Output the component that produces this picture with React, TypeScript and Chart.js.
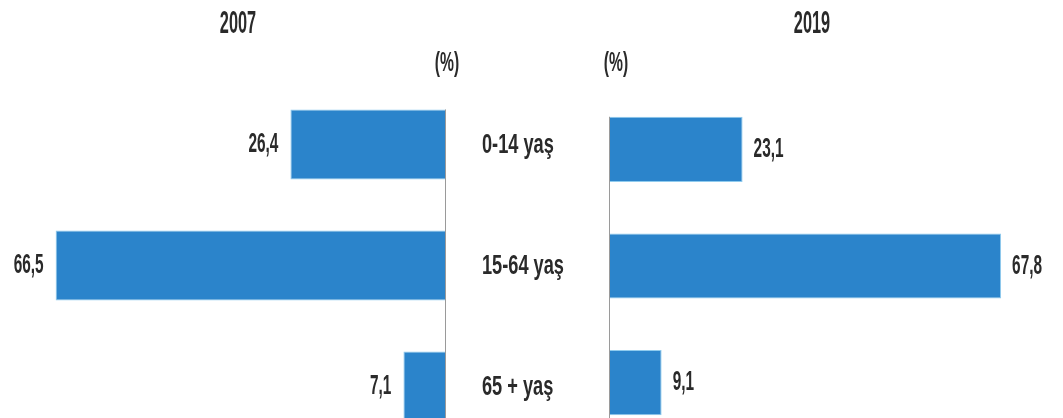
import React, { useEffect, useRef } from 'react';
import { Chart, registerables } from 'chart.js';

Chart.register(...registerables);

// Age groups and population shares (%)
const categories = ['0-14 yaş', '15-64 yaş', '65 + yaş'];
const values2007 = [26.4, 66.5, 7.1];
const values2019 = [23.1, 67.8, 9.1];
const yearLabels = ['2007', '2019'];
const unitLabel = '(%)';

const FONT = "'Liberation Sans', Arial, sans-serif";
const TEXT_COLOR = '#2a2a2a';
const BAR_COLOR = '#2b84cb';
const BAR_EDGE = '#8fcbee';
const AXIS_COLOR = '#9a9a9a';

// narrow, tall lettering: size in px and horizontal squeeze
type TextStyle = { size: number; squeeze: number };
const VALUE_TEXT: TextStyle = { size: 28, squeeze: 0.55 };
const CATEGORY_TEXT: TextStyle = { size: 28, squeeze: 0.65 };
const YEAR_TEXT: TextStyle = { size: 32, squeeze: 0.51 };
const UNIT_TEXT: TextStyle = { size: 28, squeeze: 0.56 };

const fmt = (v: number) => v.toFixed(1).replace('.', ',');

function drawText(
  ctx: CanvasRenderingContext2D,
  text: string,
  x: number,
  y: number,
  style: TextStyle,
  align: CanvasTextAlign
) {
  ctx.save();
  ctx.font = `bold ${style.size}px ${FONT}`;
  ctx.fillStyle = TEXT_COLOR;
  ctx.textBaseline = 'middle';
  ctx.textAlign = align;
  ctx.translate(x, y);
  ctx.scale(style.squeeze, 1);
  ctx.fillText(text, 0, 0);
  ctx.restore();
}

type Side = 'left' | 'right';

function makePlugin(side: Side, year: string, yearX: number, unitX: number, categoryX: number | null) {
  return {
    id: 'pyramidDecor' + side,
    afterDatasetsDraw(chart: any) {
      const ctx: CanvasRenderingContext2D = chart.ctx;
      const meta = chart.getDatasetMeta(0);
      const bars = meta.data.map((el: any) => el.getProps(['x', 'y', 'height', 'base'], true));
      const zeroX = chart.scales.x.getPixelForValue(0);

      // vertical baseline from the first bar down
      ctx.save();
      ctx.strokeStyle = AXIS_COLOR;
      ctx.lineWidth = 1;
      ctx.beginPath();
      const x0 = Math.round(zeroX) + 0.5;
      ctx.moveTo(x0, bars[0].y - bars[0].height / 2);
      ctx.lineTo(x0, chart.height);
      ctx.stroke();
      ctx.restore();

      // value labels at the bar ends
      const values: number[] = chart.data.datasets[0].data;
      bars.forEach((b: any, i: number) => {
        if (side === 'left') {
          drawText(ctx, fmt(values[i]), b.x - 12, b.y, VALUE_TEXT, 'right');
        } else {
          drawText(ctx, fmt(values[i]), b.x + 11, b.y, VALUE_TEXT, 'left');
        }
      });

      // category names between the two halves
      if (categoryX !== null) {
        const labels: string[] = chart.data.labels;
        bars.forEach((b: any, i: number) => {
          drawText(ctx, labels[i], categoryX, b.y + 1, CATEGORY_TEXT, 'left');
        });
      }

      // year heading and unit
      drawText(ctx, year, yearX, 24, YEAR_TEXT, 'center');
      drawText(ctx, unitLabel, unitX, 63, UNIT_TEXT, 'center');
    },
  };
}

function HalfChart(props: {
  side: Side;
  values: number[];
  year: string;
  left: number;
  width: number;
  height: number;
  max: number;
  padding: { top: number; bottom: number; left: number; right: number };
  barPercentage: number;
  yearX: number;
  unitX: number;
  categoryX: number | null;
}) {
  const ref = useRef<HTMLCanvasElement>(null);

  useEffect(() => {
    if (!ref.current) return;
    const chart = new Chart(ref.current, {
      type: 'bar',
      data: {
        labels: categories,
        datasets: [
          {
            data: props.values,
            backgroundColor: BAR_COLOR,
            borderColor: BAR_EDGE,
            borderWidth: 1,
            categoryPercentage: 1,
            barPercentage: props.barPercentage,
          },
        ],
      },
      options: {
        indexAxis: 'y',
        responsive: false,
        animation: false,
        devicePixelRatio: 1,
        layout: { padding: props.padding },
        plugins: {
          legend: { display: false },
          tooltip: { enabled: false },
          title: { display: false },
        },
        scales: {
          x: {
            type: 'linear',
            display: false,
            min: 0,
            max: props.max,
            reverse: props.side === 'left',
          },
          y: { type: 'category', display: false },
        },
      },
      plugins: [makePlugin(props.side, props.year, props.yearX, props.unitX, props.categoryX)],
    });
    return () => chart.destroy();
  }, []);

  return (
    <canvas
      ref={ref}
      width={props.width}
      height={props.height}
      style={{ position: 'absolute', left: props.left, top: 0, width: props.width, height: props.height }}
    />
  );
}

export default function App() {
  const rightOrigin = 474;
  return (
    <div
      style={{
        position: 'fixed',
        left: 0,
        top: 0,
        width: 1063,
        height: 418,
        overflow: 'hidden',
        background: '#ffffff',
      }}
    >
      <HalfChart
        side="left"
        values={values2007}
        year={yearLabels[0]}
        left={0}
        width={600}
        height={460}
        max={76}
        padding={{ top: 84, bottom: 13, left: 0, right: 155 }}
        barPercentage={0.58}
        yearX={238}
        unitX={447}
        categoryX={482}
      />
      <HalfChart
        side="right"
        values={values2019}
        year={yearLabels[1]}
        left={rightOrigin}
        width={589}
        height={460}
        max={78.5}
        padding={{ top: 91, bottom: 19, left: 135, right: 0 }}
        barPercentage={0.558}
        yearX={812 - rightOrigin}
        unitX={616 - rightOrigin}
        categoryX={null}
      />
    </div>
  );
}
